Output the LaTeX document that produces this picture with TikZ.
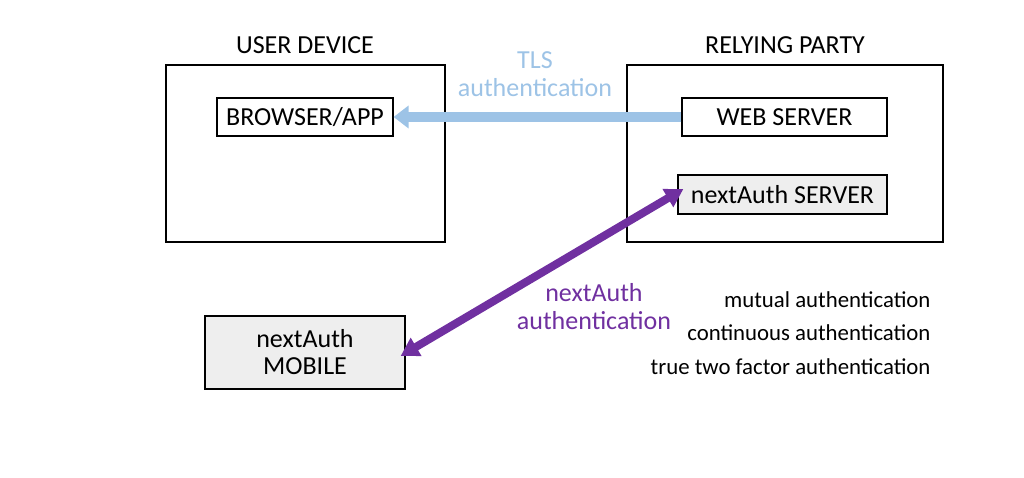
\documentclass[tikz,border=0pt]{standalone}
\usepackage{fontspec}
\setmainfont{Carlito}
\usepackage{tikz}
\usetikzlibrary{positioning, arrows.meta}
\definecolor{tlsblue}{HTML}{9DC3E6}
\definecolor{authpurple}{HTML}{7030A0}
\definecolor{boxgray}{HTML}{EEEEEE}
\tikzset{
    partybox/.style={
        rectangle,
        draw=black, % 外框
        line width=1.2pt,
        inner sep=0
    },
    whitebox/.style={
        rectangle,
        draw=black,
        fill=white,
        line width=1.2pt,
        inner sep=0,
        font=\fontsize{26}{31}\selectfont
    },
    graybox/.style={
        rectangle,
        draw=black,
        fill=boxgray, % 灰色填充
        line width=1.2pt,
        inner sep=0,
        align=center,
        font=\fontsize{26}{31}\selectfont
    }
}

\begin{document}
\begin{tikzpicture}[x=1pt, y=-1pt,
                every node/.style={font=\fontsize{26}{31}\selectfont}
            ]
            \useasboundingbox (0,0) rectangle (1024,478);
            % two parties
            \node[partybox, minimum width=279pt, minimum height=177pt] (device) at (305.5,153.5) {};
            \node[partybox, minimum width=316pt, minimum height=177pt] (party) at (785,153.5) {};
            \node (devicelabel) at (305,45) {USER DEVICE};
            \node (partylabel) at (785,45) {RELYING PARTY};
            % inner boxes
            \node[whitebox, minimum width=176pt, minimum height=38pt] (browser) at (305,117) {BROWSER/APP};
            \node[whitebox, minimum width=205pt, minimum height=38pt] (web) at (784.5,117) {WEB SERVER};
            \node[graybox, minimum width=209pt, minimum height=39pt] (server) at (782.5,194.5) {nextAuth SERVER};
            \node[graybox, minimum width=200pt, minimum height=73pt] (mobile) at (305,352.5) {nextAuth\\[-4pt]MOBILE};
            % connectors
            \draw[tlsblue, line width=10pt, -{Triangle[length=15pt, width=22pt]}] (web.west) -- (browser.east);
            \node[tlsblue, align=center] (tlslabel) at (535,74) {TLS\\[-3pt]authentication};
            \draw[authpurple, line width=8pt, {Triangle[length=18pt, width=20pt]}-{Triangle[length=18pt, width=20pt]}]
                ([xshift=-5pt, yshift=-3.5pt]mobile.east) -- ([xshift=6pt, yshift=5.5pt]server.west);
            \node[authpurple, align=center] (authlabel) at (594,307) {nextAuth\\[-3pt]authentication};
            % properties
            \node[anchor=east, font=\fontsize{22.8}{27}\selectfont] (mutual) at (934,300) {mutual authentication};
            \node[anchor=east, font=\fontsize{22.8}{27}\selectfont] (continuous) at (934,333) {continuous authentication};
            \node[anchor=east, font=\fontsize{22.8}{27}\selectfont] (twofactor) at (934,367) {true two factor authentication};
\end{tikzpicture}
\end{document}
